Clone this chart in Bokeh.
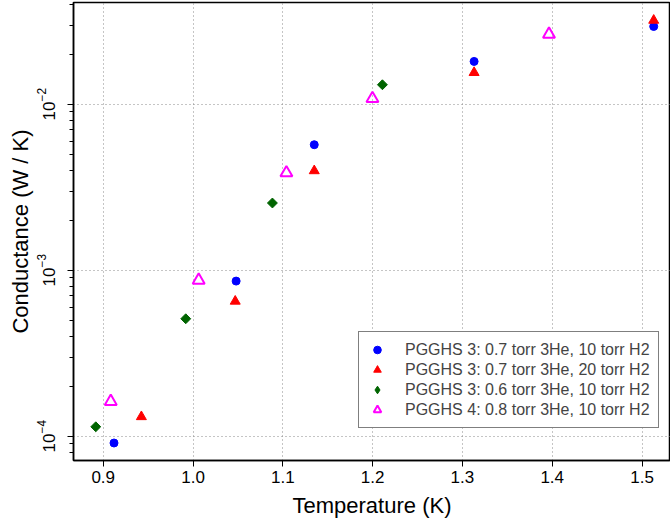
import numpy as np
from bokeh.plotting import figure
from bokeh.models import Range1d, FixedTicker, PrintfTickFormatter, LegendItem, Legend
from bokeh.embed import file_html
from bokeh.resources import INLINE

# ---- data ----
blue_T = [0.912, 1.048, 1.135, 1.313, 1.513]
blue_G = [9.1e-5, 8.6e-4, 5.7e-3, 1.81e-2, 2.94e-2]
red_T = [0.9425, 1.047, 1.135, 1.313, 1.513]
red_G = [1.31e-4, 6.5e-4, 3.97e-3, 1.55e-2, 3.2e-2]
green_T = [0.8917, 0.9919, 1.0884, 1.2109]
green_G = [1.14e-4, 5.1e-4, 2.54e-3, 1.31e-2]
mag_T = [0.9084, 1.0063, 1.104, 1.1998, 1.3964]
mag_G = [1.62e-4, 8.7e-4, 3.86e-3, 1.08e-2, 2.64e-2]

labels = ["PGGHS 3: 0.7 torr 3He, 10 torr H2",
          "PGGHS 3: 0.7 torr 3He, 20 torr H2",
          "PGGHS 3: 0.6 torr 3He, 10 torr H2",
          "PGGHS 4: 0.8 torr 3He, 10 torr H2"]

x_ticks = [0.9, 1.0, 1.1, 1.2, 1.3, 1.4, 1.5]
y_ticks = [1e-4, 1e-3, 1e-2]
y_minor = [m * 10.0 ** e for e in range(-5, -1) for m in range(2, 10)]

FONT = "Liberation Sans"

p = figure(width=670, height=527,
           x_range=Range1d(0.8669, 1.5317),
           y_range=Range1d(7.14e-5, 0.04099),
           y_axis_type="log",
           output_backend="svg", toolbar_location=None,
           min_border_left=73, min_border_right=0,
           min_border_top=2, min_border_bottom=67,
           x_axis_label="Temperature (K)",
           y_axis_label="Conductance (W / K)")

p.background_fill_color = "white"
p.border_fill_color = "white"
p.outline_line_color = "black"
p.outline_line_width = 1.5

p.xaxis.ticker = FixedTicker(ticks=x_ticks)
p.xaxis.formatter = PrintfTickFormatter(format="%.1f")
p.yaxis.ticker = FixedTicker(ticks=y_ticks, minor_ticks=y_minor)
p.yaxis.major_label_orientation = "vertical"

for ax in p.axis:
    ax.axis_line_color = "black"
    ax.axis_line_width = 1.5
    ax.major_tick_line_color = "black"
    ax.major_tick_out = 6
    ax.major_tick_in = 0
    ax.minor_tick_line_color = "black"
    ax.minor_tick_out = 4
    ax.minor_tick_in = 0
    ax.major_label_text_font = FONT
    ax.major_label_text_font_size = "17px"
    ax.major_label_text_color = "black"
    ax.axis_label_text_font = FONT
    ax.axis_label_text_font_size = "22px"
    ax.axis_label_text_font_style = "normal"
    ax.axis_label_text_color = "black"

p.xaxis.major_label_standoff = 4
p.xaxis.axis_label_standoff = 7
p.yaxis.major_label_standoff = 13
p.yaxis.axis_label_standoff = 1

for g in (p.xgrid, p.ygrid):
    g.grid_line_color = "#8a8a8a"
    g.grid_line_dash = "1 3"
    g.grid_line_width = 1

r_blue = p.scatter(blue_T, blue_G, marker="circle", size=8, color="#0000ff")
r_red = p.scatter(red_T, red_G, marker="triangle", size=10, color="#ff0000")
r_green = p.scatter(green_T, green_G, marker="square", angle=np.pi / 4, size=7,
                    color="#006400")
# hidden twin used only for the legend key (diamond shape)
r_green_key = p.scatter(green_T, green_G, marker="diamond", size=10,
                        color="#006400", visible=False)
r_mag = p.scatter(mag_T, mag_G, marker="triangle", size=12, fill_color=None,
                  line_color="#ff00ff", line_width=2)

lg = Legend(items=[LegendItem(label=labels[0], renderers=[r_blue]),
                   LegendItem(label=labels[1], renderers=[r_red]),
                   LegendItem(label=labels[2], renderers=[r_green_key]),
                   LegendItem(label=labels[3], renderers=[r_mag])])
lg.location = (285, 32)
lg.margin = 0
lg.padding = 8
lg.spacing = 1
lg.glyph_width = 20
lg.glyph_height = 19
lg.label_height = 19
lg.label_standoff = 18
lg.label_text_font = FONT
lg.label_text_font_size = "16px"
lg.border_line_color = "black"
lg.border_line_width = 1
lg.background_fill_alpha = 1.0
lg.inactive_fill_alpha = 0.0
p.add_layout(lg)

open("out.html", "w").write(file_html(p, INLINE))
